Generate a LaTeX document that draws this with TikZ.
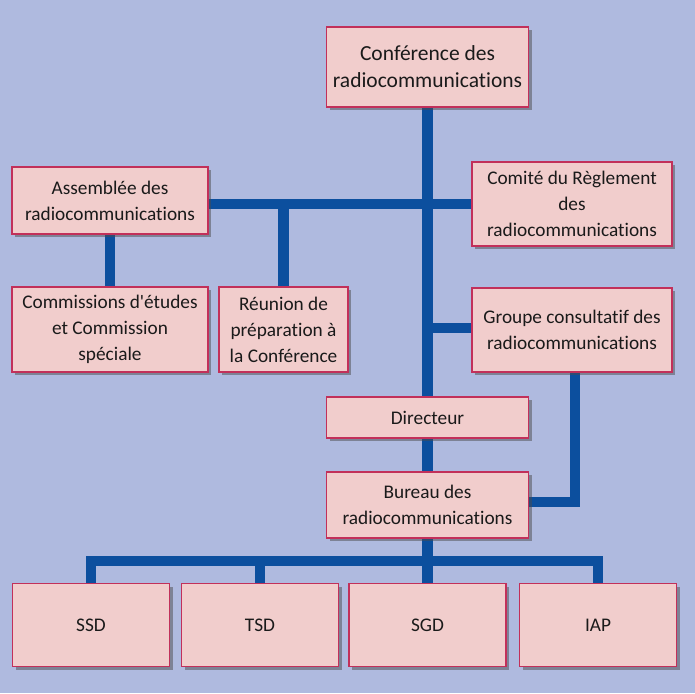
\documentclass[tikz,border=0pt]{standalone}
\usepackage{fontspec}
\setmainfont{Carlito}[Ligatures=NoCommon]
\usetikzlibrary{shadows}
\definecolor{bgcol}{HTML}{AFBADF}
\definecolor{boxfill}{HTML}{F1CDCC}
\definecolor{boxline}{HTML}{C2305A}
\definecolor{linkcol}{HTML}{0C4F9E}
\definecolor{txtcol}{HTML}{1A1A1A}
\pgfdeclarelayer{bgfill}
\pgfdeclarelayer{background}
\pgfsetlayers{bgfill,background,main}
\begin{document}
\begin{tikzpicture}[x=1pt,y=-1pt,
  orgbox/.style={draw=boxline, fill=boxfill, line width=1.6pt, align=center,
    inner sep=0pt, text=txtcol, font=\fontsize{19.3}{26}\selectfont,
    drop shadow={opacity=0.5, fill=black!70, shadow xshift=3pt, shadow yshift=-3pt}},
  link/.style={draw=linkcol, line width=10.5pt, line join=miter, line cap=butt}]
\useasboundingbox (0,0) rectangle (695,693);
\begin{pgfonlayer}{bgfill}
\fill[bgcol] (0,0) rectangle (695,693);
\end{pgfonlayer}

\node[orgbox, minimum width=202pt, minimum height=80pt, font=\fontsize{21.5}{27}\selectfont] (conf) at (427.5,67) {Conférence des\\radiocommunications};
\node[orgbox, minimum width=196pt, minimum height=67pt] (assem) at (110,200.5) {Assemblée des\\radiocommunications};
\node[orgbox, minimum width=200pt, minimum height=84pt] (comite) at (572,204) {Comité du Règlement\\des\\radiocommunications};
\node[orgbox, minimum width=196pt, minimum height=85pt] (comm) at (110,329.5) {Commissions d\textquotesingle études\\et Commission\\spéciale};
\node[orgbox, minimum width=129pt, minimum height=85pt] (reun) at (283.5,329.5) {Réunion de\\préparation à\\la Conférence};
\node[orgbox, minimum width=200pt, minimum height=84pt] (groupe) at (572,330) {Groupe consultatif des\\radiocommunications};
\node[orgbox, minimum width=202pt, minimum height=41pt] (dir) at (427.5,417.5) {Directeur};
\node[orgbox, minimum width=202pt, minimum height=66pt] (bureau) at (427.5,505) {Bureau des\\radiocommunications};
\node[orgbox, minimum width=157pt, minimum height=83pt] (ssd) at (91,625) {SSD};
\node[orgbox, minimum width=157pt, minimum height=83pt] (tsd) at (260,625) {TSD};
\node[orgbox, minimum width=157pt, minimum height=83pt] (sgd) at (427.5,625) {SGD};
\node[orgbox, minimum width=157pt, minimum height=83pt] (iap) at (598,625) {IAP};
\coordinate (bus) at (427.5,561);

\begin{pgfonlayer}{background}
\draw[link] (conf.south) -- (dir.north);
\draw[link] (dir.south) -- (bureau.north);
\draw[link] (assem.east |- comite.west) -- (comite.west);
\draw[link] (reun.north) -- (reun.north |- comite.west);
\draw[link] (assem.south) -- (comm.north);
\draw[link] (groupe.west |- 0,328) -- (conf.south |- 0,328);
\draw[link] (groupe.south -| 575,0) |- (bureau.east |- 0,502);
\draw[link] (bureau.south) -- (bus);
\draw[link] (ssd.north) |- (iap.north |- bus) -- (iap.north);
\draw[link] (tsd.north) -- (tsd.north |- bus);
\draw[link] (sgd.north) -- (bus);
\end{pgfonlayer}
\end{tikzpicture}
\end{document}
